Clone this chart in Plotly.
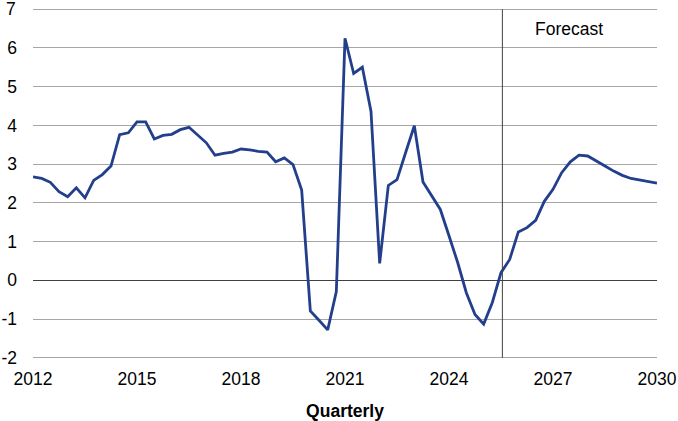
import plotly.graph_objects as go

start_year = 2012
values = [
    2.67, 2.63, 2.53, 2.29, 2.16, 2.39, 2.13, 2.58, 2.73, 2.95,
    3.76, 3.81, 4.09, 4.09, 3.65, 3.74, 3.77, 3.89, 3.95, 3.76,
    3.55, 3.23, 3.28, 3.31, 3.39, 3.37, 3.33, 3.31, 3.06, 3.16,
    2.99, 2.33, -0.79, -1.03, -1.28, -0.29, 6.25, 5.34, 5.50, 4.36,
    0.44, 2.45, 2.60, 3.30, 3.99, 2.54, 2.18, 1.83, 1.15, 0.46,
    -0.32, -0.88, -1.13, -0.57, 0.20, 0.54, 1.25, 1.36, 1.55, 2.04,
    2.35, 2.78, 3.06, 3.23, 3.21, 3.09, 2.95, 2.82, 2.71, 2.63,
    2.59, 2.55, 2.51,
]
quarters = [start_year + i / 4 for i in range(len(values))]
x_ticks = [2012, 2015, 2018, 2021, 2024, 2027, 2030]
y_ticks = [-2, -1, 0, 1, 2, 3, 4, 5, 6, 7]
y_tick_labels = ["-2", "-1", "0", "1", "2", "3", "4", "5", "6", "7"]
forecast_start = 2025.54

fig = go.Figure()
fig.add_trace(go.Scatter(x=quarters, y=values, mode="lines",
                         line=dict(color="#233f8c", width=2.8),
                         showlegend=False, hoverinfo="skip"))

fig.add_shape(type="line", x0=forecast_start, x1=forecast_start, y0=-2, y1=7,
              xref="x", yref="y", line=dict(color="#404040", width=1))
fig.add_annotation(x=2027.46, y=6.50, xref="x", yref="y", text="Forecast",
                   showarrow=False, font=dict(size=17.5, color="#000000"))

# The top tick label sits at the figure edge, where plotly drops it; draw it as text.
top_tick = y_ticks[-1]
fig.add_annotation(x=0, xref="paper", xanchor="right", xshift=-15,
                   y=top_tick, yref="y", yanchor="middle",
                   text=y_tick_labels[-1], showarrow=False,
                   font=dict(size=17.5, color="#000000"))
axis_labels = y_tick_labels[:-1] + [""]

font = "Liberation Sans, Arial, sans-serif"
fig.update_layout(
    width=678, height=421,
    margin=dict(l=33, r=21, t=8, b=62, autoexpand=False),
    paper_bgcolor="white", plot_bgcolor="white",
    font=dict(family=font, size=17.5, color="#000000"),
    xaxis=dict(range=[2012, 2030], tickvals=x_ticks, ticktext=[str(t) for t in x_ticks],
               showgrid=False, zeroline=False, showline=False, ticks="",
               ticklabelstandoff=7, automargin=False,
               title=dict(text="<b>Quarterly</b>", font=dict(size=17.5), standoff=17)),
    yaxis=dict(range=[-2.03, 7.03], tickvals=y_ticks, ticktext=axis_labels,
               showgrid=True, gridcolor="#a6a6a6",
               gridwidth=1, zeroline=True, zerolinecolor="#404040", zerolinewidth=1,
               showline=False, ticks="", ticklabelstandoff=15, automargin=False),
)

fig.write_html("out.html", config={"displayModeBar": False},
               post_script="document.body.style.margin='0';document.body.style.overflow='hidden';")
